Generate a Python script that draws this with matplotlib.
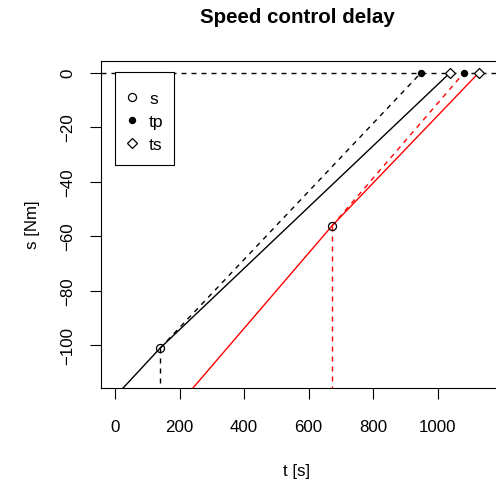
import matplotlib
matplotlib.use("Agg")
import matplotlib.pyplot as plt
from matplotlib.patches import Rectangle

plt.rcParams['font.family'] = ['Liberation Sans', 'DejaVu Sans']

# two runs: black and red
colors = ['black', 'red']
t_start = [24, 242]          # where the solid line leaves the bottom of the plot
s_start = [-115.8, -115.6]
t_ctrl = [139.3, 671.8]      # control point (open circle)
s_ctrl = [-101.1, -56.3]
t_p = [949, 1082]            # predicted zero crossing (filled dot)
t_s = [1039, 1128]           # actual zero crossing (diamond)
legend_labels = ['s', 'tp', 'ts']

W, H = 496, 485
fig = plt.figure(figsize=(W / 100, H / 100), dpi=100)
left, right, top, bottom = 100.5, 496, 61.7, 388.5
ax = fig.add_axes([left / W, 1 - bottom / H, (right - left) / W, (bottom - top) / H])

dash = (0, (3.6, 3.6))
lw = 1.0

ax.axhline(0, color='black', lw=lw, linestyle=dash, zorder=1)

for i, c in enumerate(colors):
    # solid trajectory
    ax.plot([t_start[i], t_ctrl[i], t_s[i]], [s_start[i], s_ctrl[i], 0],
            color=c, lw=lw, zorder=2)
    # dashed prediction
    ax.plot([t_ctrl[i], t_p[i]], [s_ctrl[i], 0], color=c, lw=lw,
            linestyle=dash, zorder=2)
    # vertical drop line from control point
    ax.plot([t_ctrl[i], t_ctrl[i]], [s_ctrl[i], -130], color=c, lw=lw,
            linestyle=dash, zorder=2)

circ = dict(marker='o', ms=5.8, mfc='none', mec='black', mew=0.9)
dot = dict(marker='o', ms=4.3, mfc='black', mec='black')
diam = dict(marker='D', ms=5.2, mfc='white', mec='black', mew=0.9)

ax.plot(t_ctrl, s_ctrl, linestyle='none', zorder=3, **circ)
ax.plot(t_p, [0, 0], linestyle='none', zorder=3, **dot)
ax.plot(t_s, [0, 0], linestyle='none', zorder=3, **diam)

ax.set_xlim(-45.1, (right - 114.7) / 0.323)
ax.set_ylim(-115.5, 4.33)

ax.set_xticks([0, 200, 400, 600, 800, 1000])
ax.set_yticks([0, -20, -40, -60, -80, -100])
ax.set_yticklabels(['0', '\u221220', '\u221240', '\u221260', '\u221280', '\u2212100'],
                   rotation=90, va='center')
ax.tick_params(direction='out', length=7.9, width=0.8, labelsize=12.2)
ax.tick_params(axis='x', pad=14.5)
ax.tick_params(axis='y', pad=10)
ax.spines['right'].set_visible(False)
for sp in ['left', 'top', 'bottom']:
    ax.spines[sp].set_linewidth(0.8)

# legend drawn by hand, R style (box corner at the data origin)
def px(x, y):
    return (x - left) / (right - left), (bottom - y) / (bottom - top)

x0, y0 = px(115, 166)
x1, y1 = px(174, 73.3)
ax.add_patch(Rectangle((x0, y0), x1 - x0, y1 - y0, transform=ax.transAxes,
                       fill=True, facecolor='white', edgecolor='black',
                       lw=0.8, zorder=4))
rows = [97.7, 121, 144.3]
for style, lab, ry in zip([circ, dot, diam], legend_labels, rows):
    mx, my = px(132.3, ry)
    ax.plot([mx], [my], transform=ax.transAxes, linestyle='none',
            zorder=5, clip_on=False, **style)
    tx, ty = px(149, ry + 6)
    ax.text(tx, ty, lab, transform=ax.transAxes, ha='left', va='baseline',
            fontsize=12.6, zorder=5)

cx = 297 / W
fig.text(cx, 1 - 23 / H, 'Speed control delay', ha='center', va='baseline',
         fontsize=14.8, fontweight='bold')
fig.text(cx, 1 - 476 / H, 't [s]', ha='center', va='baseline', fontsize=12.2)
fig.text(33 / W, 1 - 225 / H, 's [Nm]', ha='center', va='center',
         rotation=90, fontsize=12.2)

fig.savefig('out.png', dpi=100)
